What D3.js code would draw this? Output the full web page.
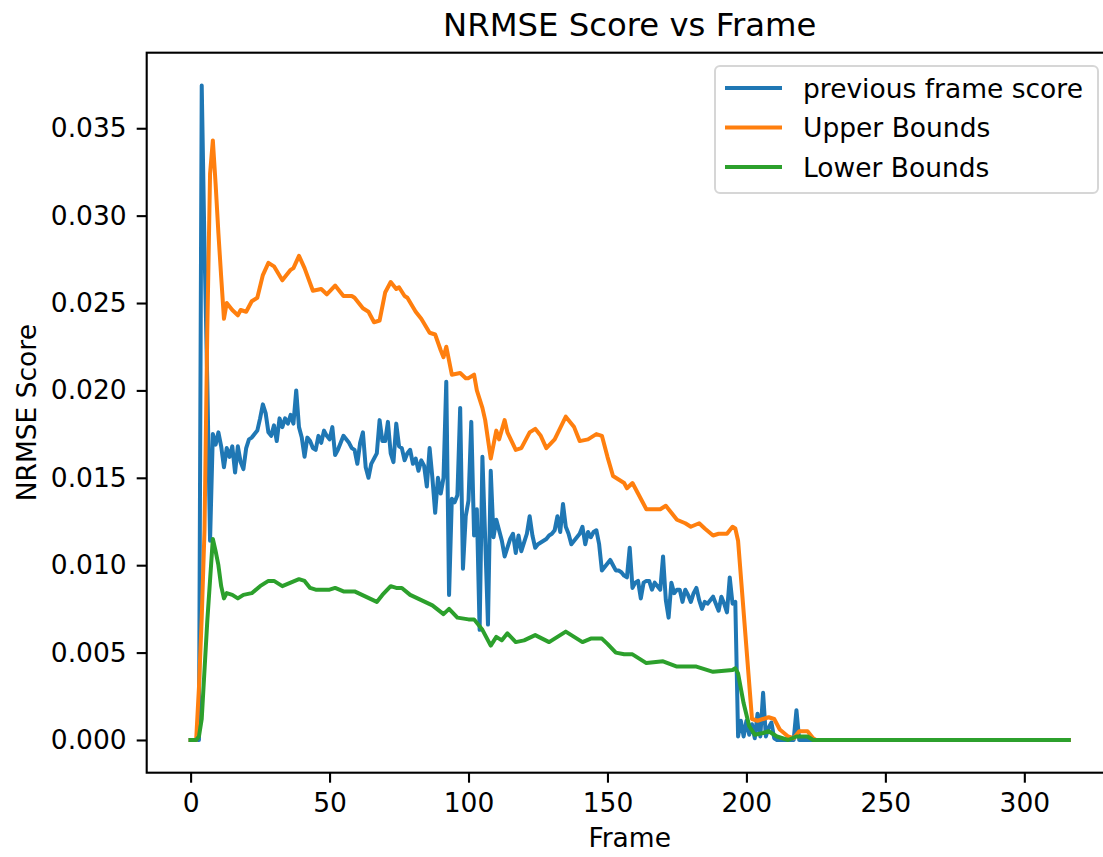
<!DOCTYPE html>
<html>
<head>
<meta charset="utf-8">
<script src="https://cdn.jsdelivr.net/npm/d3@7"></script>
<style>
  body { margin: 0; background: #fff; }
  text { font-family: "DejaVu Sans", sans-serif; fill: #000; }
</style>
</head>
<body>
<svg id="chart" width="1103" height="857"></svg>
<script>
// values: [frame, NRMSE score]
const prevFrameScore = [[0,0],[1,0],[2,0],[3,0],[4,0.03745],[5,0.0282],[6,0.0205],[7,0.0114],[8,0.0175],[9,0.0169],
  [10,0.0176],[11,0.0168],[12,0.0156],[13,0.0167],[14,0.0162],[15,0.0168],[16,0.0153],[17,0.0168],[18,0.0159],[19,0.0155],
  [20,0.0167],[21,0.0172],[22,0.0173],[23,0.0175],[24,0.0177],[25,0.0184],[26,0.0192],[27,0.0187],[28,0.0176],[29,0.0174],
  [30,0.0180],[31,0.0171],[32,0.0184],[33,0.0179],[34,0.0184],[35,0.0181],[36,0.0186],[37,0.0181],[38,0.0200],[39,0.0179],
  [40,0.0173],[41,0.0162],[42,0.0173],[43,0.0171],[44,0.0167],[45,0.0166],[46,0.0174],[47,0.0170],[48,0.0177],[49,0.0174],
  [50,0.0172],[51,0.0179],[52,0.0163],[53,0.0166],[54,0.0170],[55,0.0174],[56,0.0172],[57,0.0170],[58,0.0167],[59,0.0166],
  [60,0.0158],[61,0.0170],[62,0.0176],[63,0.0156],[64,0.0150],[65,0.0158],[66,0.0161],[67,0.0164],[68,0.0183],[69,0.0171],
  [70,0.0171],[71,0.0182],[72,0.0164],[73,0.0159],[74,0.0181],[75,0.0168],[76,0.0167],[77,0.0160],[78,0.0164],[79,0.0166],
  [80,0.0158],[81,0.0161],[82,0.0154],[83,0.0160],[84,0.0157],[85,0.0145],[86,0.0167],[87,0.0150],[88,0.0130],[89,0.0150],
  [90,0.0141],[91,0.0150],[92,0.0205],[93,0.0083],[94,0.0138],[95,0.0136],[96,0.0140],[97,0.0190],[98,0.0098],[99,0.0128],
  [100,0.0137],[101,0.0182],[102,0.0117],[103,0.0132],[104,0.0063],[105,0.0162],[106,0.0115],[107,0.0066],[108,0.0154],[109,0.0116],
  [110,0.0126],[111,0.0120],[112,0.0114],[113,0.0105],[114,0.0110],[115,0.0115],[116,0.0118],[117,0.0107],[118,0.0117],[119,0.0108],
  [120,0.0113],[121,0.0118],[122,0.0128],[123,0.0117],[124,0.0110],[125,0.0112],[126,0.0113],[127,0.0114],[128,0.0115],[129,0.0117],
  [130,0.0118],[131,0.0120],[132,0.0128],[133,0.0119],[134,0.0135],[135,0.0122],[136,0.0118],[137,0.0112],[138,0.0114],[139,0.0116],
  [140,0.0118],[141,0.0122],[142,0.0112],[143,0.0119],[144,0.0116],[145,0.0119],[146,0.0120],[147,0.0112],[148,0.0097],[149,0.0099],
  [150,0.0101],[151,0.0103],[152,0.0100],[153,0.0097],[154,0.0097],[155,0.0096],[156,0.0094],[157,0.0093],[158,0.0110],[159,0.0087],
  [160,0.0090],[161,0.0091],[162,0.0081],[163,0.0090],[164,0.0091],[165,0.0091],[166,0.0086],[167,0.0090],[168,0.0088],[169,0.0086],
  [170,0.0105],[171,0.0080],[172,0.0070],[173,0.0090],[174,0.0084],[175,0.0086],[176,0.0086],[177,0.0079],[178,0.0086],[179,0.0083],
  [180,0.0079],[181,0.0084],[182,0.0087],[183,0.0080],[184,0.0075],[185,0.0079],[186,0.0078],[187,0.0080],[188,0.0082],[189,0.0078],
  [190,0.0074],[191,0.0082],[192,0.0078],[193,0.0073],[194,0.0093],[195,0.0078],[196,0.0079],[197,0.0002],[198,0.0011],[199,0.0002],
  [200,0.0011],[201,0.0003],[202,0.0009],[203,0.0001],[204,0.0015],[205,0.0002],[206,0.0027],[207,0.0002],[208,0.0007],[209,0.0010],
  [210,0.0001],[211,0],[217,0],[218,0.0017],[219,0],[316,0]];

const upperBounds = [[0,0],[2,0],[3,0.003],[4,0.007],[5,0.012],[6,0.0234],[7,0.0324],[8,0.0343],[9,0.0318],[10,0.029],
  [11,0.0265],[12,0.0241],[13,0.0250],[15,0.0246],[17,0.0243],[18,0.0246],[20,0.0245],[22,0.0251],[24,0.0253],[26,0.0266],
  [28,0.0273],[30,0.0271],[33,0.0263],[36,0.0269],[37,0.0270],[39,0.0277],[41,0.0270],[44,0.0257],[47,0.0258],[49,0.0255],
  [52,0.0260],[55,0.0254],[58,0.0254],[59,0.0253],[62,0.0247],[64,0.0245],[66,0.0239],[68,0.0240],[70,0.0256],[72,0.0262],
  [74,0.0258],[75,0.0259],[77,0.0254],[78,0.0253],[81,0.0245],[83,0.0241],[86,0.0233],[88,0.0232],[90,0.0223],[91,0.0219],
  [92,0.0225],[94,0.0209],[97,0.0210],[99,0.0207],[100,0.0207],[102,0.0209],[103,0.0200],[105,0.0190],[106,0.0183],[107,0.0172],
  [108,0.0161],[110,0.0177],[111,0.0172],[113,0.0183],[114,0.0176],[117,0.0166],[119,0.0167],[122,0.0176],[124,0.0178],[126,0.0174],
  [128,0.0167],[131,0.0172],[135,0.0185],[138,0.0179],[140,0.0171],[143,0.0172],[146,0.0175],[148,0.0174],[150,0.0162],[152,0.0151],
  [154,0.0149],[156,0.0147],[157,0.0144],[159,0.0147],[161,0.0141],[164,0.0132],[166,0.0132],[169,0.0132],[171,0.0134],[173,0.0130],
  [175,0.0126],[178,0.0124],[180,0.0122],[183,0.0124],[185,0.0121],[188,0.0117],[190,0.0118],[193,0.0118],[195,0.0122],[196,0.0121],
  [197,0.0114],[202,0.0012],[204,0.0011],[208,0.0013],[210,0.0012],[212,0.0006],[215,0.0002],[217,0.0001],[219,0.0005],[222,0.0005],
  [224,0.0001],[225,0],[316,0]];

const lowerBounds = [[0,0],[2,0],[3,0.0002],[4,0.0012],[6,0.0068],[8,0.0115],[9,0.0108],[10,0.0100],[11,0.0088],[12,0.0081],
  [13,0.0084],[15,0.0083],[17,0.0081],[19,0.0083],[22,0.0084],[25,0.0088],[28,0.0091],[30,0.0091],[33,0.0088],[36,0.0090],
  [39,0.0092],[41,0.0091],[43,0.0087],[45,0.0086],[48,0.0086],[50,0.0086],[52,0.0087],[55,0.0085],[59,0.0085],[63,0.0082],
  [67,0.0079],[69,0.0083],[72,0.0088],[74,0.0087],[76,0.0087],[79,0.0083],[83,0.0080],[87,0.0077],[91,0.0072],[93,0.0075],
  [96,0.0070],[100,0.0069],[102,0.0069],[105,0.0063],[108,0.0054],[110,0.0059],[112,0.0057],[114,0.0061],[117,0.0056],[120,0.0057],
  [124,0.0060],[129,0.0056],[135,0.0062],[138,0.0059],[141,0.0056],[144,0.0058],[148,0.0058],[150,0.0055],[153,0.0050],[156,0.0049],
  [159,0.0049],[164,0.0044],[170,0.0045],[175,0.0042],[182,0.0042],[188,0.0039],[195,0.0040],[196,0.0041],[197,0.0038],[199,0.0021],
  [201,0.0008],[203,0.0003],[206,0.0004],[208,0.0005],[211,0.0002],[215,0],[218,0.0002],[222,0.0002],[224,0],[316,0]];

const seriesNames = ["previous frame score", "Upper Bounds", "Lower Bounds"];
const seriesColors = ["#1f77b4", "#ff7f0e", "#2ca02c"];
const xTicks = [0, 50, 100, 150, 200, 250, 300];
const yTicks = [0, 0.005, 0.010, 0.015, 0.020, 0.025, 0.030, 0.035];

const svg = d3.select("#chart");
const fs = 26.5;
const margin = {left: 146.7, top: 52.7, bottom: 772.7};
const plotW = 966;   // right spine lies past the picture edge, as in the reference

const allSeries = [prevFrameScore, upperBounds, lowerBounds];
const xExt = d3.extent(allSeries.flat(), d => d[0]);
const yExt = d3.extent(allSeries.flat(), d => d[1]);
const xPad = (xExt[1] - xExt[0]) * 0.05, yPad = (yExt[1] - yExt[0]) * 0.05;

const x = d3.scaleLinear().domain([xExt[0] - xPad, xExt[1] + xPad]).range([margin.left, margin.left + plotW]);
const y = d3.scaleLinear().domain([yExt[0] - yPad, yExt[1] + yPad]).range([margin.bottom, margin.top]);

const line = d3.line().x(d => x(d[0])).y(d => y(d[1]));

svg.append("clipPath").attr("id", "plotclip").append("rect")
  .attr("x", margin.left).attr("y", margin.top)
  .attr("width", plotW).attr("height", margin.bottom - margin.top);

const lines = svg.append("g").attr("clip-path", "url(#plotclip)");
allSeries.forEach((s, i) => {
  lines.append("path")
    .datum(s)
    .attr("d", line)
    .attr("fill", "none")
    .attr("stroke", seriesColors[i])
    .attr("stroke-width", 4)
    .attr("stroke-linejoin", "round")
    .attr("stroke-linecap", "square");
});

// spines
svg.append("rect")
  .attr("x", margin.left).attr("y", margin.top)
  .attr("width", plotW).attr("height", margin.bottom - margin.top)
  .attr("fill", "none").attr("stroke", "#000").attr("stroke-width", 2.1);

// axes
const xAxis = svg.append("g").attr("transform", `translate(0,${margin.bottom})`)
  .call(d3.axisBottom(x).tickValues(xTicks).tickFormat(d3.format("d")).tickSize(10).tickPadding(10));
const yAxis = svg.append("g").attr("transform", `translate(${margin.left},0)`)
  .call(d3.axisLeft(y).tickValues(yTicks).tickFormat(d3.format(".3f")).tickSize(10).tickPadding(10));
[xAxis, yAxis].forEach(a => {
  a.select(".domain").remove();
  a.selectAll(".tick line").attr("stroke", "#000").attr("stroke-width", 2.1);
  a.selectAll(".tick text").style("font-family", "DejaVu Sans").style("font-size", fs + "px").attr("fill", "#000");
});

// title and axis labels
svg.append("text")
  .attr("x", margin.left + plotW / 2).attr("y", 36)
  .attr("text-anchor", "middle").style("font-size", "32.3px")
  .text("NRMSE Score vs Frame");
svg.append("text")
  .attr("x", margin.left + plotW / 2).attr("y", 847)
  .attr("text-anchor", "middle").style("font-size", fs + "px")
  .text("Frame");
svg.append("text")
  .attr("transform", `translate(36,${(margin.top + margin.bottom) / 2}) rotate(-90)`)
  .attr("text-anchor", "middle").style("font-size", fs + "px")
  .text("NRMSE Score");

// legend
const legend = svg.append("g");
legend.append("rect")
  .attr("x", 715).attr("y", 66).attr("width", 383).attr("height", 127)
  .attr("rx", 5).attr("ry", 5)
  .attr("fill", "#fff").attr("fill-opacity", 0.8)
  .attr("stroke", "#d6d6d6").attr("stroke-width", 2);
seriesNames.forEach((name, i) => {
  const ly = 88 + i * 39.5;
  legend.append("line")
    .attr("x1", 725).attr("x2", 782).attr("y1", ly).attr("y2", ly)
    .attr("stroke", seriesColors[i]).attr("stroke-width", 4);
  legend.append("text")
    .attr("x", 803).attr("y", ly + 9.5)
    .style("font-size", fs + "px")
    .text(name);
});
</script>
</body>
</html>
